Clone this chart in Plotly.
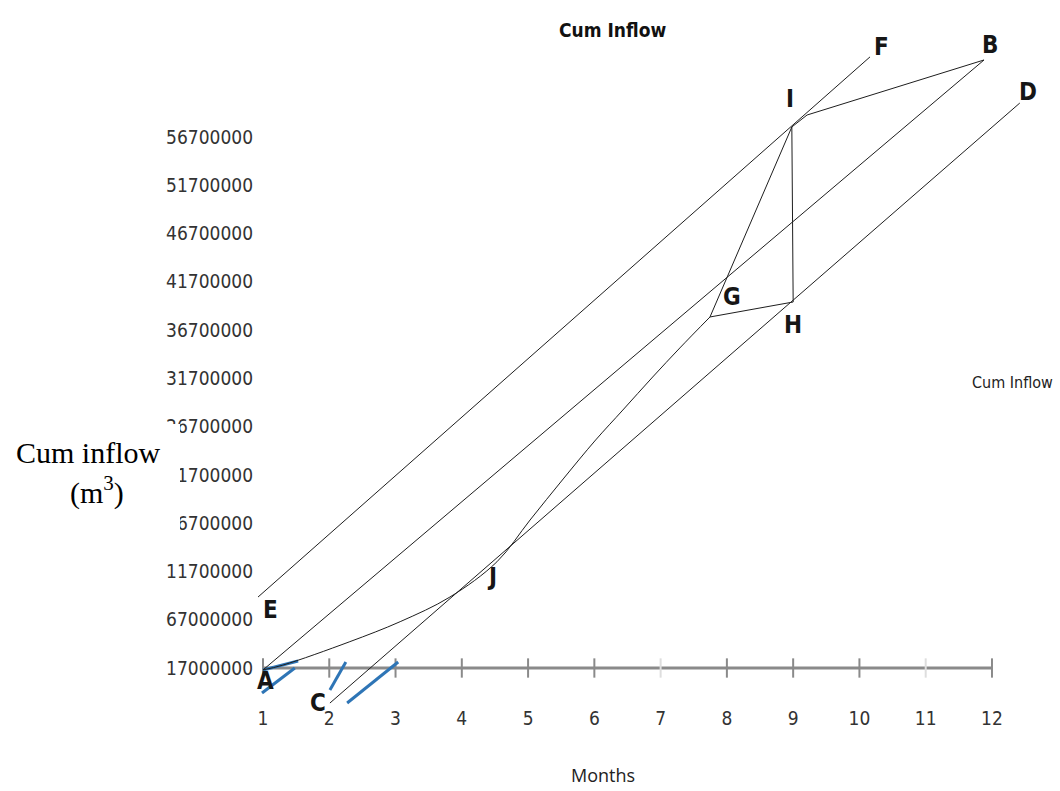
import plotly.graph_objects as go

# ---- data (x in months, y in million m3) ----
months = [1, 2, 3, 4, 5, 6, 7, 8, 9, 10, 11, 12]
y_tick_vals = [1.7, 6.7, 11.7, 16.7, 21.7, 26.7, 31.7, 36.7, 41.7, 46.7, 51.7, 56.7]
y_tick_text = ["17000000", "67000000", "11700000", "16700000", "21700000", "26700000",
               "31700000", "36700000", "41700000", "46700000", "51700000", "56700000"]

# cumulative inflow (mass) curve A -> J -> K
curve_month = [1.0, 1.3, 2.3, 3.07, 3.82, 4.53, 5.03, 5.53, 6.02, 6.43, 6.88, 7.29, 7.745]
curve_cum = [1.5, 2.0, 4.4, 6.5, 9.05, 12.7, 17.03, 21.28, 25.32, 28.42, 31.84, 34.85, 38.06]

# demand lines (parallel tangents)
line_EF_month = [0.925, 10.16]
line_EF_cum = [9.05, 65.0]
line_AB_month = [1.0, 11.88]
line_AB_cum = [1.5, 64.68]
line_CD_month = [2.01, 12.42]
line_CD_cum = [-1.93, 60.22]

# construction between K, G, H and I, then on to B
seg_KH_month = [7.745, 9.0]
seg_KH_cum = [38.06, 39.61]
seg_KI_month = [7.745, 8.98]
seg_KI_cum = [38.06, 57.74]
seg_HI_month = [9.0, 8.98]
seg_HI_cum = [39.61, 57.74]
seg_IB_month = [8.98, 9.21, 11.88]
seg_IB_cum = [57.74, 58.98, 64.68]

# short blue marks near A and C
blue_marks = [
    ([1.0, 1.53], [1.49, 2.42]),
    ([0.985, 1.48], [-0.89, 1.7]),
    ([2.01, 2.25], [-0.58, 2.32]),
    ([2.27, 3.04], [-1.93, 2.32]),
]

# point labels
point_names = ["A", "B", "C", "D", "E", "F", "G", "H", "I", "J"]
point_month = [1.045, 11.97, 1.83, 12.54, 1.106, 10.34, 8.08, 9.0, 8.95, 4.46]
point_cum = [0.35, 66.23, -1.93, 61.36, 7.71, 66.02, 40.13, 37.23, 60.64, 11.13]

axis_level = 1.7
tick_half = 1.0
faint_ticks = [7, 11]

BLACK = "#1e1e1e"
GREY = "#8a8a8a"
BLUE = "#2e75b6"
NARROW = "Liberation Sans Narrow, DejaVu Sans Condensed, Roboto, sans-serif"

fig = go.Figure()

def add_line(xs, ys, color=BLACK, width=1.0, shape="linear"):
    fig.add_trace(go.Scatter(x=xs, y=ys, mode="lines",
                             line=dict(color=color, width=width, shape=shape),
                             hoverinfo="skip", showlegend=False))

# horizontal axis line with crossing ticks
add_line([months[0], months[-1]], [axis_level, axis_level], GREY, 3)
for m in months:
    add_line([m, m], [axis_level - tick_half, axis_level + tick_half],
             "#dedede" if m in faint_ticks else GREY, 2)

for xs, ys in blue_marks:
    add_line(xs, ys, BLUE, 3)

add_line(line_EF_month, line_EF_cum)
add_line(line_AB_month, line_AB_cum)
add_line(line_CD_month, line_CD_cum)
add_line(curve_month, curve_cum, shape="spline")
add_line(seg_KH_month, seg_KH_cum)
add_line(seg_KI_month, seg_KI_cum)
add_line(seg_HI_month, seg_HI_cum)
add_line(seg_IB_month, seg_IB_cum)

annotations = []
for name, xm, yc in zip(point_names, point_month, point_cum):
    annotations.append(dict(x=xm, y=yc, xref="x", yref="y", text="<b>" + name + "</b>",
                            showarrow=False,
                            font=dict(family=NARROW, size=24, color="#161616")))

# title and side labels (placed in pixels, converted below)
annotations += [
    dict(x=612, y=30, text="<b>Cum Inflow</b>", showarrow=False,
         font=dict(family=NARROW, size=19, color="#111111")),
    dict(x=603, y=775, text="Months", showarrow=False,
         font=dict(family="Open Sans, sans-serif", size=18, color="#222222")),
    dict(x=1012, y=382, text="Cum Inflow", showarrow=False,
         font=dict(family=NARROW, size=16, color="#222222")),
    dict(x=88, y=452, text="Cum inflow", showarrow=False,
         font=dict(family="Liberation Serif, Times New Roman, serif", size=30, color="#000000")),
    dict(x=97, y=490, text="(m<sup>3</sup>)", showarrow=False,
         font=dict(family="Liberation Serif, Times New Roman, serif", size=30, color="#000000")),
]

W, H = 1060, 791
ML, MR, MT, MB = 254, 0, 20, 86
PW, PH = W - ML - MR, H - MT - MB
for a in annotations:
    if a.get("xref") == "x":
        continue
    a["x"] = (a["x"] - ML) / PW
    a["y"] = (H - MB - a["y"]) / PH
    a["xref"] = "paper"
    a["yref"] = "paper"
    a["xanchor"] = "center"
    a["yanchor"] = "middle"

# white text box of the y-axis caption
box_x0, box_x1, box_y0, box_y1 = 0, 180, 424, 532
shapes = [dict(type="rect", xref="paper", yref="paper", layer="above",
               x0=(box_x0 - ML) / PW, x1=(box_x1 - ML) / PW,
               y0=(H - MB - box_y1) / PH, y1=(H - MB - box_y0) / PH,
               fillcolor="white", line=dict(width=0))]

fig.update_layout(
    width=W, height=H,
    margin=dict(l=ML, r=MR, t=MT, b=MB),
    paper_bgcolor="white", plot_bgcolor="white",
    annotations=annotations, shapes=shapes,
    xaxis=dict(range=[0.8642, 13.0266], tickvals=months, ticktext=[str(m) for m in months],
               showgrid=False, zeroline=False, showline=False, ticks="",
               tickfont=dict(family=NARROW, size=19, color="#333333")),
    yaxis=dict(range=[-2.1325, 68.82], tickvals=y_tick_vals, ticktext=y_tick_text,
               showgrid=False, zeroline=False, showline=False, ticks="",
               tickfont=dict(family=NARROW, size=19, color="#333333")),
)

fig.write_html("out.html")
